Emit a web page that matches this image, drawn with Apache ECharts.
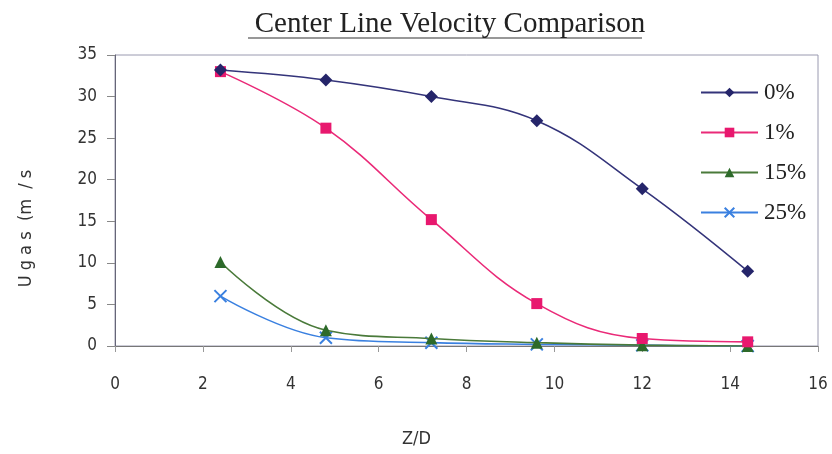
<!DOCTYPE html>
<html>
<head>
<meta charset="utf-8">
<script src="https://cdn.jsdelivr.net/npm/echarts@6/dist/echarts.min.js"></script>
<style>
  html, body { margin: 0; padding: 0; background: #ffffff; }
  #chart { width: 832px; height: 454px; }
</style>
</head>
<body>
<div id="chart"></div>
<script>
// Axial positions (Z/D) of the measurement stations
const zOverD = [2.4, 4.8, 7.2, 9.6, 12.0, 14.4];

// Centre-line gas velocity (m/s) for each loading
const seriesNames = ['0%', '1%', '15%', '25%'];
const ugas0 = [33.2, 32.0, 30.0, 27.1, 18.9, 9.0];
const ugas1 = [33.0, 26.2, 15.2, 5.1, 0.9, 0.5];
const ugas15 = [10.1, 1.9, 0.9, 0.4, 0.1, 0.0];
const ugas25 = [6.0, 1.0, 0.4, 0.2, 0.1, 0.0];

const xTicks = [0, 2, 4, 6, 8, 10, 12, 14, 16];
const yTicks = [0, 5, 10, 15, 20, 25, 30, 35];

const pairs = (ys) => zOverD.map((x, i) => [x, ys[i]]);

const tickFont = {
  fontFamily: 'DejaVu Sans Condensed',
  fontSize: 17,
  color: '#333333'
};

const styles = [
  { color: '#25256a', line: '#34347a', symbol: 'diamond', size: 13 },
  { color: '#e8186e', line: '#ea2a78', symbol: 'rect', size: 11 },
  { color: '#2d6a2a', line: '#4a7a3a', symbol: 'triangle', size: 12 },
  { color: '#3a80e0', line: '#3a80e0', symbol: 'path://M0,0 L2,2 M2,0 L0,2', size: 12 }
];

const dataSets = [ugas0, ugas1, ugas15, ugas25];

const chart = echarts.init(document.getElementById('chart'), null, { renderer: 'canvas' });

chart.setOption({
  animation: false,
  backgroundColor: '#ffffff',
  title: {
    text: 'Center Line Velocity Comparison',
    left: 445,
    textAlign: 'center',
    top: 5,
    textStyle: {
      fontFamily: 'Liberation Serif',
      fontSize: 29,
      fontWeight: 'normal',
      color: '#222222'
    }
  },
  graphic: [
    {
      type: 'line',
      shape: { x1: 248, y1: 38, x2: 642, y2: 38 },
      style: { stroke: '#333333', lineWidth: 1.2 }
    }
  ],
  grid: {
    left: 115,
    right: 14,
    top: 55,
    bottom: 108,
    show: true,
    borderColor: '#9a9ab0',
    borderWidth: 1
  },
  legend: {
    orient: 'vertical',
    left: 700,
    top: 81,
    padding: 0,
    itemWidth: 57,
    itemHeight: 12,
    itemGap: 17,
    data: seriesNames,
    textStyle: {
      fontFamily: 'Liberation Serif',
      fontSize: 23,
      color: '#222222',
      padding: [0, 0, 0, 1]
    }
  },
  xAxis: {
    type: 'value',
    min: 0,
    max: 16,
    interval: 2,
    name: 'Z/D',
    nameLocation: 'middle',
    nameGap: 84,
    nameTextStyle: Object.assign({}, tickFont, { fontSize: 18, padding: [0, 100, 0, 0] }),
    axisLine: { show: true, lineStyle: { color: '#777777', width: 1 } },
    axisTick: { show: true, inside: false, length: 6, lineStyle: { color: '#999999' } },
    axisLabel: Object.assign({ margin: 30, formatter: (v) => xTicks.includes(v) ? String(v) : '' }, tickFont),
    splitLine: { show: false }
  },
  yAxis: {
    type: 'value',
    min: 0,
    max: 35,
    interval: 5,
    name: 'U g a s  (m  / s',
    nameLocation: 'middle',
    nameGap: 80,
    nameRotate: 90,
    nameTextStyle: Object.assign({}, tickFont, { fontSize: 18, padding: [0, 56, 0, 0] }),
    axisLine: { show: true, lineStyle: { color: '#666677', width: 1 } },
    axisTick: { show: true, length: 8, lineStyle: { color: '#888888' } },
    axisLabel: Object.assign({ margin: 18, formatter: (v) => yTicks.includes(v) ? String(v) : '' }, tickFont),
    splitLine: { show: false }
  },
  series: seriesNames.map((name, i) => ({
    name: name,
    type: 'line',
    data: pairs(dataSets[i]),
    smooth: 0.4,
    symbol: styles[i].symbol,
    symbolSize: styles[i].size,
    itemStyle: i === 3
      ? { color: '#ffffff', borderColor: styles[i].color, borderWidth: 2 }
      : { color: styles[i].color },
    lineStyle: { color: styles[i].line, width: 1.6 },
    z: 10 - i
  }))
});
</script>
</body>
</html>
